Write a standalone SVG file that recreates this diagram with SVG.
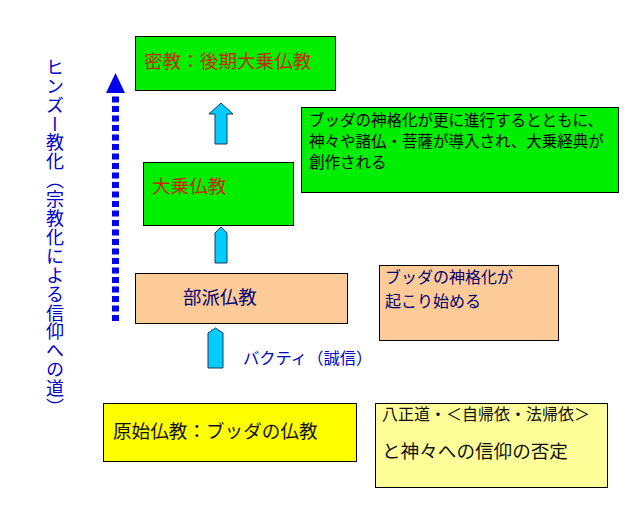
<svg xmlns="http://www.w3.org/2000/svg" width="635" height="527" viewBox="0 0 635 527">
<style>
text{font-family:"Noto Sans CJK JP","Noto Sans CJK SC",sans-serif;}
.box{stroke:#000;stroke-width:1;}
.g{fill:#00ee00;}
.o{fill:#fccb98;}
.y{fill:#ffff00;}
.ly{fill:#ffff99;}
.red{fill:#c42a00;font-size:18.6px;}
.navy{fill:#000070;}
.arr{fill:#00ccff;stroke:#1a3a5a;stroke-width:1;}
</style>
<rect width="635" height="527" fill="#fff"/>
<g id="label-vertical">
<text x="55" y="58" style="writing-mode:vertical-rl;font-size:18px;letter-spacing:0.9px;" fill="#0000cc">ヒンズー教化（宗教化による信仰への道）</text>
</g>
<g id="connectors">
<line x1="115.5" y1="321" x2="115.5" y2="92" stroke="#0000ee" stroke-width="7" stroke-dasharray="6 3.5"/>
<polygon points="115.5,73 106,93 125,93" fill="#0000ee"/>
<polygon class="arr" points="221,103 209,114 215,114 215,144 227,144 227,114 233,114"/>
<polygon class="arr" points="221,227 215,233 215,263 227,263 227,233"/>
<polygon class="arr" points="215.5,328 208,333 208,368 223,368 223,333"/>
</g>
<g id="node-mikkyo">
<rect class="box g" x="135.5" y="36.5" width="200" height="54"/>
<text class="red" x="144" y="68">密教：後期大乗仏教</text>
</g>
<g id="node-daijo">
<rect class="box g" x="143.5" y="162.5" width="150" height="63"/>
<text class="red" x="152" y="193">大乗仏教</text>
</g>
<g id="note-daijo">
<rect class="box g" x="301.5" y="107.5" width="317" height="85"/>
<text x="309" y="126" font-size="15.5" fill="#000">ブッダの神格化が更に進行するとともに、</text>
<text x="309" y="147" font-size="15.5" fill="#000">神々や諸仏・菩薩が導入され、大乗経典が</text>
<text x="309" y="168" font-size="15.5" fill="#000">創作される</text>
</g>
<g id="node-buha">
<rect class="box o" x="135.5" y="273.5" width="212" height="50"/>
<text class="navy" x="183" y="304" font-size="18.4">部派仏教</text>
</g>
<g id="note-buha">
<rect class="box o" x="379.5" y="265.5" width="179" height="75"/>
<text class="navy" x="385" y="283" font-size="16">ブッダの神格化が</text>
<text class="navy" x="385" y="307" font-size="16">起こり始める</text>
</g>
<g id="label-bhakti">
<text x="243" y="364" font-size="16.3" fill="#0000cc">バクティ（誠信）</text>
</g>
<g id="node-genshi">
<rect class="box y" x="103.5" y="403.5" width="253" height="58"/>
<text x="113" y="438" font-size="18.6" fill="#111">原始仏教：ブッダの仏教</text>
</g>
<g id="note-genshi">
<rect class="box ly" x="375.5" y="403.5" width="232" height="84"/>
<text x="382" y="420" font-size="16" fill="#111">八正道・＜自帰依・法帰依＞</text>
<text x="382" y="458" font-size="18.6" fill="#111">と神々への信仰の否定</text>
</g>
</svg>
